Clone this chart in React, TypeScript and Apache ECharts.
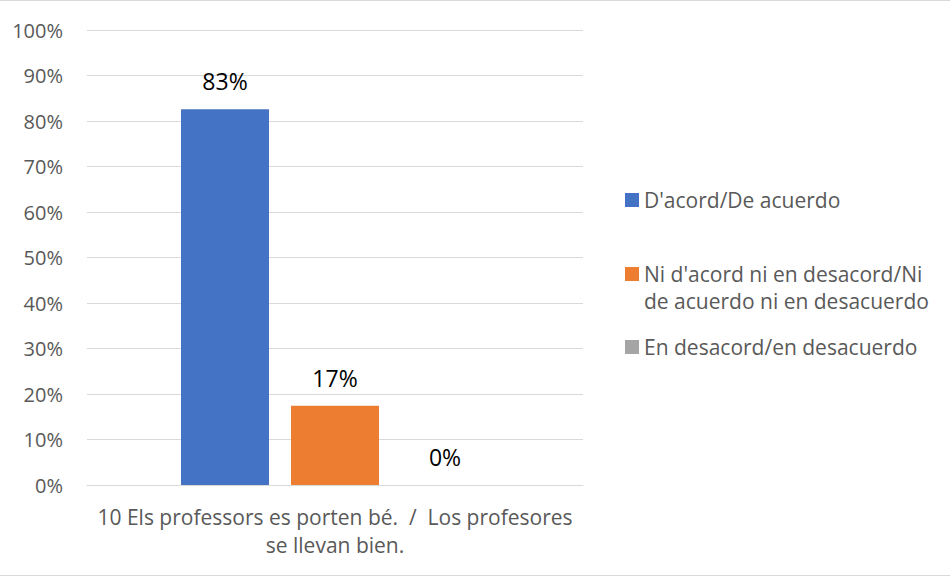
import React, { useEffect, useRef } from "react";
import * as echarts from "echarts";

const categories = ["10 Els professors es porten bé.  /  Los profesores\nse llevan bien."];
const seriesNames = [
  "D'acord/De acuerdo",
  "Ni d'acord ni en desacord/Ni de acuerdo ni en desacuerdo",
  "En desacord/en desacuerdo",
];
const legendLine1 = ["D'acord/De acuerdo", "Ni d'acord ni en desacord/Ni", "En desacord/en desacuerdo"];
const legendLine2 = ["", "de acuerdo ni en desacuerdo", ""];
const acordValues = [0.826];
const niValues = [0.174];
const desacordValues = [0];
const colors = ["#4472C4", "#ED7D31", "#A5A5A5"];
const yTicks = [0, 0.1, 0.2, 0.3, 0.4, 0.5, 0.6, 0.7, 0.8, 0.9, 1];

const FONT = "Open Sans";

export default function App() {
  const ref = useRef<HTMLDivElement>(null);
  useEffect(() => {
    if (!ref.current) return;
    const chart = echarts.init(ref.current, undefined, { renderer: "svg" });
    const values = [acordValues, niValues, desacordValues];
    const legendCenters = [200, 274, 347];
    const LH = 27;
    chart.setOption({
      animation: false,
      backgroundColor: "#fff",
      textStyle: { fontFamily: FONT },
      grid: { left: 87, right: 367, top: 30, bottom: 94 },
      xAxis: {
        type: "category",
        data: categories,
        axisLine: { show: true, lineStyle: { color: "#D9D9D9", width: 1 } },
        axisTick: { show: false },
        axisLabel: {
          color: "#595959",
          fontSize: 21,
          fontFamily: FONT,
          lineHeight: 28,
          margin: 18,
        },
      },
      yAxis: {
        type: "value",
        min: 0,
        max: 1,
        interval: 0.1,
        axisLine: { show: false },
        axisTick: { show: false },
        splitLine: { lineStyle: { color: "#D9D9D9", width: 1 } },
        axisLabel: {
          color: "#595959",
          fontSize: 20,
          fontFamily: FONT,
          margin: 24,
          formatter: (v: number) => {
            const t = yTicks.find((x) => Math.abs(x - v) < 1e-6);
            return Math.round((t ?? v) * 100) + "%";
          },
        },
      },
      legend: seriesNames.map((name, i) => ({
        orient: "vertical",
        left: 625,
        top: legendCenters[i] - LH / 2,
        padding: 0,
        itemWidth: 14,
        itemHeight: 14,
        itemGap: 0,
        icon: "rect",
        data: [name],
        selectedMode: false,
        formatter: () => legendLine1[i],
        textStyle: {
          color: "#595959",
          fontSize: 21,
          fontFamily: FONT,
          lineHeight: LH,
        },
      })),
      series: seriesNames.map((name, i) => ({
        name,
        type: "bar",
        data: values[i],
        barWidth: 88,
        barGap: "25%",
        itemStyle: { color: colors[i] },
        label: {
          show: true,
          position: "top",
          distance: 16,
          color: "#000",
          fontSize: 23,
          lineHeight: 24,
          fontFamily: FONT,
          formatter: (p: any) => Math.round(p.value * 100) + "%",
        },
      })),
      graphic: [
        { type: "line", silent: true, shape: { x1: 0, y1: 0.5, x2: 950, y2: 0.5 }, style: { stroke: "#D9D9D9", lineWidth: 1 } },
        { type: "line", silent: true, shape: { x1: 0, y1: 575.5, x2: 950, y2: 575.5 }, style: { stroke: "#D9D9D9", lineWidth: 1 } },
        ...legendLine2
          .map((t, i) =>
            t
              ? {
                  type: "text",
                  left: 644,
                  top: legendCenters[i] + LH / 2,
                  style: {
                    text: t,
                    fill: "#595959",
                    fontSize: 21,
                    fontFamily: FONT,
                    lineHeight: LH,
                  },
                }
              : null
          )
          .filter(Boolean),
      ],
    });
    return () => chart.dispose();
  }, []);
  return (
    <div
      ref={ref}
      style={{ position: "fixed", left: 0, top: 0, width: 950, height: 579 }}
    />
  );
}
